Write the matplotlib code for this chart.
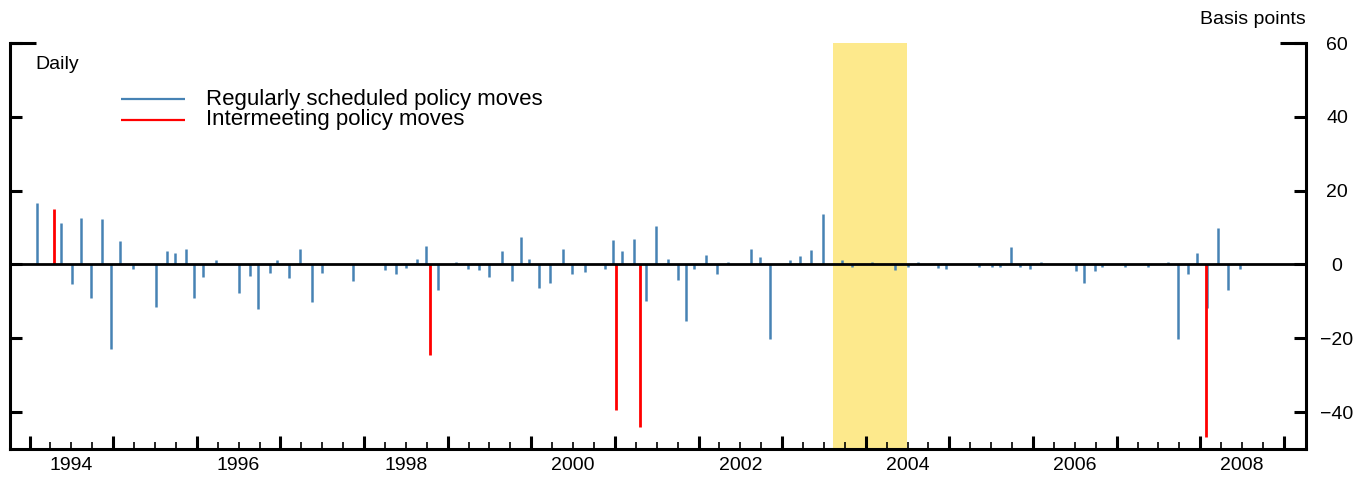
import matplotlib
matplotlib.use('Agg')
import matplotlib.pyplot as plt
import matplotlib.transforms as mtransforms
import numpy as np

plt.rcParams['font.family'] = ['Liberation Sans', 'DejaVu Sans']

# ---------------- data (decimal years, basis points) ----------------
sched_dates = [1994.092, 1994.372, 1994.511, 1994.619, 1994.738, 1994.870, 1994.974,
               1995.085, 1995.240, 1995.508, 1995.640, 1995.739, 1995.874, 1995.970,
               1996.080, 1996.230, 1996.505, 1996.640, 1996.735, 1996.870, 1996.963,
               1997.100, 1997.234, 1997.381, 1997.500, 1997.868,
               1998.250, 1998.386, 1998.498, 1998.633, 1998.745, 1998.888,
               1999.096, 1999.247, 1999.379, 1999.498, 1999.650, 1999.766, 1999.881, 1999.977,
               2000.093, 2000.228, 2000.376, 2000.491, 2000.646, 2000.882, 2000.974,
               2001.089, 2001.225, 2001.372, 2001.495, 2001.639, 2001.759, 2001.854, 2001.950,
               2002.086, 2002.221, 2002.353, 2002.624, 2002.736, 2002.855,
               2003.091, 2003.218, 2003.350, 2003.486, 2003.713, 2003.830,
               2004.080, 2004.350, 2004.500, 2004.620, 2004.870, 2004.960,
               2005.350, 2005.510, 2005.610, 2005.740, 2005.845, 2005.965,
               2006.100, 2006.510, 2006.610, 2006.740, 2006.830,
               2007.100, 2007.370, 2007.620, 2007.730, 2007.850, 2007.960,
               2008.080, 2008.210, 2008.330, 2008.480]
sched_values = [16.6, 11.1, -5.2, 12.5, -9.1, 12.2, -22.8,
                6.3, -1.3, -11.5, 3.6, 3.2, 4.1, -9.2,
                -3.4, 1.2, -7.6, -3.2, -12.2, -2.2, 1.2,
                -3.8, 4.1, -10.1, -2.4, -4.4,
                -1.4, -2.7, -0.9, 1.4, 5.0, -7.0,
                0.7, -1.3, -1.4, -3.4, 3.6, -4.4, 7.5, 1.6,
                -6.3, -5.0, 4.1, -2.7, -2.0, -1.3, 6.5,
                3.6, 7.0, -10.0, 10.5, 1.6, -4.1, -15.4, -1.1,
                2.5, -2.7, 0.8, 4.3, 2.1, -20.1,
                1.2, 2.3, 3.8, 13.6, 1.2, -0.8,
                0.7, -1.4, -0.6, 0.7, -0.9, -1.3,
                -0.8, -0.8, -0.8, 4.6, -0.8, -1.1,
                0.7, -1.7, -4.9, -1.7, -0.8,
                -0.6, -0.6, 0.7, -20.1, -2.7, 3.2,
                -11.7, 9.8, -6.8, -1.3]

inter_dates = [1994.292, 1998.793, 2001.013, 2001.304, 2008.070]
inter_values = [15.0, -24.4, -39.3, -44.1, -46.8]

shade_start, shade_end = 2003.61, 2004.49

year_labels = ['1994', '1996', '1998', '2000', '2002', '2004', '2006', '2008']
y_ticks = [-40, -20, 0, 20, 40, 60]

series_labels = ['Regularly scheduled policy moves', 'Intermeeting policy moves']

# ---------------- figure ----------------
W, H = 1358, 479
fig = plt.figure(figsize=(W / 100, H / 100), dpi=100)
L, R, T, B = 10, 1306, 43, 449
ax = fig.add_axes([L / W, 1 - B / H, (R - L) / W, (B - T) / H])
axw, axh = R - L, B - T

XMIN, XMAX = 1993.766, 2009.265

blue = '#4682B4'
red = '#FF0000'

ax.axvspan(shade_start, shade_end, color='#FDE98C', lw=0, zorder=0)
ax.vlines(sched_dates, 0, sched_values, colors=blue, lw=1.8, zorder=2)
ax.vlines(inter_dates, 0, inter_values, colors=red, lw=2.0, zorder=2)
ax.axhline(0, color='black', lw=2.0, zorder=3)

for s in ['left', 'right', 'bottom']:
    ax.spines[s].set_linewidth(2.2)
ax.spines['top'].set_visible(False)

# x ticks
majors = np.arange(1994, 2010)
minors = [y + q for y in range(1994, 2009) for q in (0.25, 0.5, 0.75)]
ax.set_xticks(majors)
ax.set_xticks(minors, minor=True)
ax.tick_params(axis='x', which='major', direction='in', length=9.5, width=2.2,
               labelbottom=False, top=False)
ax.tick_params(axis='x', which='minor', direction='in', length=5, width=1.2, top=False)

# y ticks
ax.set_yticks(y_ticks)
ax.tick_params(axis='y', which='major', direction='in', length=8.6, width=2.2,
               left=True, right=True, labelleft=False, labelright=True,
               labelsize=14, pad=22.3)
for t in ax.get_yticklabels():
    t.set_ha('center')

ax.set_xlim(XMIN, XMAX)
ax.set_ylim(-50, 60)

trans = mtransforms.blended_transform_factory(ax.transData, ax.transAxes)
for lab in year_labels:
    ax.text(int(lab) + 0.5, (B - 466) / axh, lab, transform=trans,
            ha='center', va='center', fontsize=14)

# top caps
cap = 26 / axw
ax.plot([0, cap], [1, 1], transform=ax.transAxes, color='black', lw=2.2,
        clip_on=False, solid_capstyle='butt', zorder=5)
ax.plot([1 - cap, 1], [1, 1], transform=ax.transAxes, color='black', lw=2.2,
        clip_on=False, solid_capstyle='butt', zorder=5)

# texts
ax.text(1.0, (B - 20) / axh, 'Basis points', transform=ax.transAxes,
        ha='right', va='center', fontsize=14)
ax.text((35 - L) / axw, (B - 64.5) / axh, 'Daily', transform=ax.transAxes,
        ha='left', va='center', fontsize=14)

# legend (manual)
for lbl, col, ypix in [(series_labels[0], blue, 99), (series_labels[1], red, 120)]:
    ya = (B - ypix) / axh
    ax.plot([(121 - L) / axw, (185 - L) / axw], [ya, ya], transform=ax.transAxes,
            color=col, lw=1.6, solid_capstyle='butt')
    ax.text((206 - L) / axw, ya, lbl, transform=ax.transAxes, ha='left',
            va='center', fontsize=16)

fig.savefig('out.png', dpi=100)
